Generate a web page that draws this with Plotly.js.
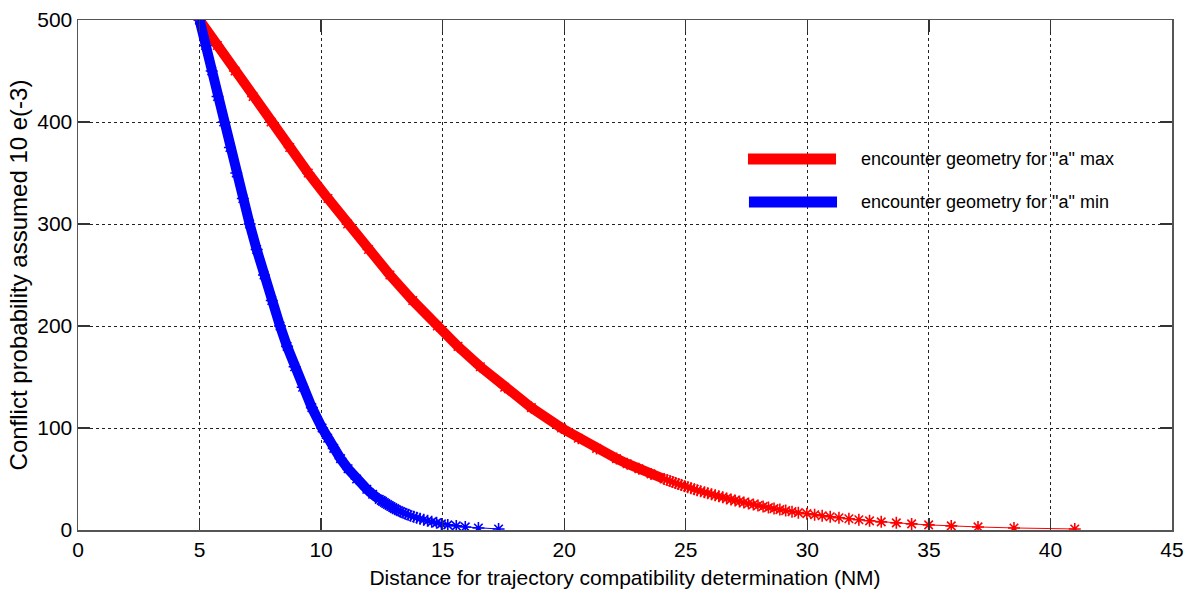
<!DOCTYPE html>
<html>
<head>
<meta charset="utf-8">
<script src="https://cdn.plot.ly/plotly-3.0.1.min.js"></script>
<style>
  html, body { margin: 0; padding: 0; background: #fff; }
  #chart { width: 1193px; height: 597px; }
</style>
</head>
<body>
<div id="chart"></div>
<script>
// Conflict probability (x 10^-3) against separation distance (NM)
// "a" max encounter geometry
const redP = [500,475,450,425,400,375,350,325,300,275,250,225,200,180,160,140,120,100,90,80,
              70,65,60,55,50,49,48,47,46,45,44,43,42,41,40,39,38,37,36,35,
              34,33,32,31,30,29,28,27,26,25,24,23,22,21,20,19,18,17,16,15,
              14,13,12,11,10,9,8,7,6,5,4,3,2,1];
const redX = [5.00,5.73,6.46,7.20,7.94,8.71,9.47,10.28,11.09,11.95,12.83,13.77,14.78,15.63,16.55,17.55,18.65,19.89,20.58,21.33,
              22.15,22.59,23.07,23.57,24.11,24.23,24.35,24.46,24.58,24.70,24.82,24.95,25.08,25.21,25.35,25.47,25.61,25.77,25.90,26.06,
              26.21,26.36,26.52,26.68,26.86,27.03,27.21,27.39,27.58,27.78,27.97,28.18,28.40,28.63,28.87,29.11,29.37,29.63,29.98,30.30,
              30.61,30.94,31.30,31.71,32.12,32.56,33.04,33.66,34.29,34.99,35.92,37.02,38.50,41.00];

// "a" min encounter geometry
const blueP = [500,475,450,425,400,375,350,325,300,275,250,225,200,180,160,140,120,100,90,80,
               70,60,50,40,35,30,29,28,27,26,25,24,23,22,21,20,19,18,17,16,
               15,14,13,12,11,10,9,8,7,6,5,4,3,2,1];
const blueX = [5.00,5.25,5.50,5.74,5.99,6.25,6.51,6.78,7.06,7.35,7.65,7.97,8.31,8.60,8.91,9.24,9.62,10.04,10.27,10.52,
               10.80,11.11,11.46,11.88,12.12,12.39,12.47,12.53,12.60,12.66,12.73,12.80,12.87,12.95,13.02,13.09,13.18,13.27,13.37,13.47,
               13.58,13.68,13.81,13.93,14.07,14.22,14.38,14.55,14.75,14.95,15.21,15.56,15.93,16.47,17.30];

const seriesNames = ['encounter geometry for "a" max', 'encounter geometry for "a" min'];
const xTitle = 'Distance for trajectory compatibility determination (NM)';
const yTitle = 'Conflict probability assumed 10 e(-3)';

const RED = '#ff0000';
const BLUE = '#0000ff';
const FONT = '"Liberation Sans", Arial, Helvetica, sans-serif';

// where the sampled points crowd together they read as a solid band
function denseSubset(xs, ps, minP) {
  const x = [], y = [];
  ps.forEach((p, i) => { if (p >= minP) { x.push(xs[i]); y.push(p); } });
  return {x, y};
}

function bandTrace(xs, ps, minP, color) {
  const d = denseSubset(xs, ps, minP);
  return {
    type: 'scatter', mode: 'lines', x: d.x, y: d.y,
    line: {color: color, width: 10}, hoverinfo: 'skip', showlegend: false
  };
}

function markTrace(xs, ps, color, name) {
  return {
    type: 'scatter', mode: 'lines+markers', x: xs, y: ps, name: name,
    line: {color: color, width: 1},
    marker: {symbol: 'asterisk-open', size: 10, color: color,
             line: {color: color, width: 1.6}},
    showlegend: false
  };
}

const traces = [
  bandTrace(redX, redP, 50, RED),
  markTrace(redX, redP, RED, seriesNames[0]),
  bandTrace(blueX, blueP, 30, BLUE),
  markTrace(blueX, blueP, BLUE, seriesNames[1])
];

const axisCommon = {
  showline: true, linecolor: '#555', linewidth: 1.5, mirror: 'ticks',
  ticks: 'inside', ticklen: 12, tickwidth: 1.3, tickcolor: '#333',
  showgrid: true, gridcolor: '#222', gridwidth: 1, griddash: '3px,3px',
  zeroline: false, automargin: false,
  tickfont: {family: FONT, size: 21, color: '#000'}
};

const layout = {
  width: 1193, height: 597,
  margin: {l: 78, r: 21, t: 20, b: 67},
  paper_bgcolor: '#fff', plot_bgcolor: '#fff',
  font: {family: FONT, color: '#000'},
  showlegend: false,
  xaxis: Object.assign({}, axisCommon, {
    range: [0, 45], tick0: 0, dtick: 5,
    title: {text: xTitle, font: {family: FONT, size: 21, color: '#000'}, standoff: 10}
  }),
  yaxis: Object.assign({}, axisCommon, {
    range: [0, 500], tick0: 0, dtick: 100,
    title: {text: yTitle, font: {family: FONT, size: 24, color: '#000'}, standoff: 3}
  }),
  shapes: [
    {type: 'line', xref: 'paper', yref: 'paper', x0: 0.6124, x1: 0.6929, y0: 0.7275, y1: 0.7275,
     line: {color: RED, width: 11}},
    {type: 'line', xref: 'paper', yref: 'paper', x0: 0.6133, x1: 0.6938, y0: 0.6431, y1: 0.6431,
     line: {color: BLUE, width: 11}}
  ],
  annotations: [
    {xref: 'paper', yref: 'paper', x: 0.7139, y: 0.7275, xanchor: 'left', yanchor: 'middle',
     text: seriesNames[0], showarrow: false, font: {family: FONT, size: 18, color: '#000'}},
    {xref: 'paper', yref: 'paper', x: 0.7139, y: 0.6431, xanchor: 'left', yanchor: 'middle',
     text: seriesNames[1], showarrow: false, font: {family: FONT, size: 18, color: '#000'}}
  ]
};

Plotly.newPlot('chart', traces, layout, {staticPlot: true, displayModeBar: false});
</script>
</body>
</html>
